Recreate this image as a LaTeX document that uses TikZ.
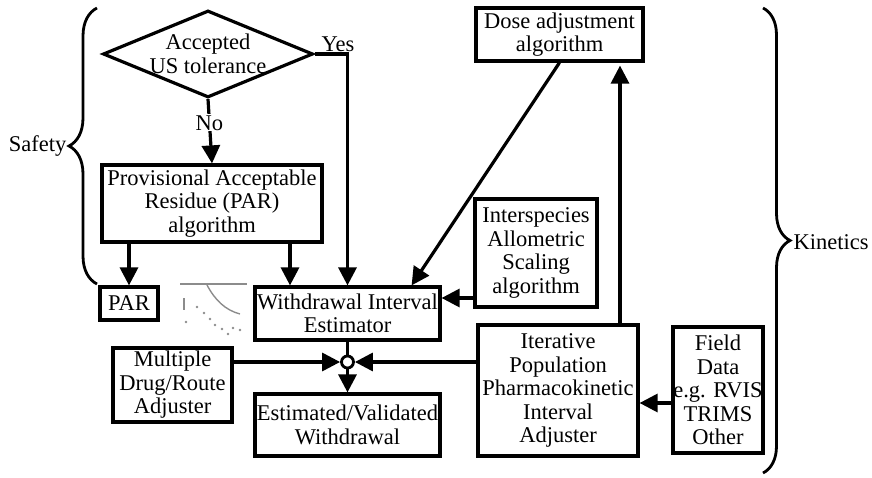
\documentclass[tikz,border=0pt]{standalone}
\usepackage{fontspec}
\setmainfont{Liberation Serif}
\usetikzlibrary{arrows.meta,shapes.geometric,decorations.pathreplacing,calc}
\begin{document}
\begin{tikzpicture}[x=1pt,y=-1pt,
  every node/.style={font=\fontsize{22.5pt}{23.5pt}\selectfont, align=center},
  box/.style={draw, line width=3.2pt, inner sep=0pt},
  arr/.style={line width=3.2pt, -{Triangle[length=18pt,width=18pt]}},
  ln/.style={line width=3.2pt},
  brc/.style={line width=2.8pt, decorate, decoration={brace}}]
\useasboundingbox (0,0) rectangle (872,478);

% diamond
\node[diamond, draw, line width=3.2pt, minimum width=210pt, minimum height=87pt, inner sep=0pt] (dia) at (208,54) {};
\node (diat) at (dia.center) {Accepted\\US tolerance};

% boxes
\node[box, minimum width=220pt, minimum height=77pt] (paralg) at (212,203.5) {Provisional Acceptable\\Residue (PAR)\\algorithm};
\node[box, minimum width=58pt, minimum height=33pt] (parbox) at (129,303.5) {PAR};
\node[box, minimum width=185pt, minimum height=53pt] (wie) at (347.5,313.5) {Withdrawal Interval\\Estimator};
\node[box, minimum width=119pt, minimum height=74pt] (mdra) at (172.5,385) {Multiple\\Drug/Route\\Adjuster};
\node[box, minimum width=185pt, minimum height=62pt] (evw) at (347.5,425) {Estimated/Validated\\Withdrawal};
\node[box, minimum width=160pt, minimum height=131pt] (ippia) at (558,390.5) {Iterative\\Population\\Pharmacokinetic\\Interval\\Adjuster};
\node[box, minimum width=90pt, minimum height=126pt] (field) at (718,390) {Field\\Data\\e.g. RVIS\\TRIMS\\Other};
\node[box, minimum width=122pt, minimum height=108pt] (inter) at (536,253) {Interspecies\\Allometric\\Scaling\\algorithm};
\node[box, minimum width=167pt, minimum height=53pt] (dose) at (559.5,34.5) {Dose adjustment\\algorithm};

% junction
\node[circle, draw, fill=white, line width=2.8pt, minimum size=12pt, inner sep=0pt] (jn) at (347.5,362) {};

% helper coordinates
\coordinate (x290) at (290,0);
\coordinate (x620) at (620,0);
\coordinate (y298) at (0,298);
\coordinate (y403) at (0,403);

% connectors
\draw[arr] (dia.south) -- node[pos=0.37, fill=white, inner sep=1pt] (no) {No} (paralg.north);
\draw[arr] (dia.east) -| (wie.north);
\node (yes) at (338,44) {Yes};
\draw[arr] (paralg.south -| parbox.north) -- (parbox.north);
\draw[arr] (paralg.south -| x290) -- (wie.north -| x290);
\draw[arr] (dose.south) -- ($(wie.north east)+(-30,0)$);
\draw[arr] (inter.west |- y298) -- (wie.east |- y298);
\draw[arr, shorten >=3pt] (ippia.north -| x620) -- (dose.south -| x620);
\draw[arr] (field.west |- y403) -- (ippia.east |- y403);
\draw[ln] (wie.south) -- (jn.north);
\draw[arr] (mdra.east |- jn) -- (jn.west);
\draw[arr] (ippia.west |- jn) -- (jn.east);
\draw[arr] (jn.south) -- (evw.north);

% braces
\draw[brc, decoration={brace, amplitude=28pt}] (97,284) -- (97,8);
\node[anchor=east] (safety) at (70,146) {Safety};
\draw[brc, decoration={brace, amplitude=27pt}] (763,8) -- (763,473);
\node[anchor=west] (kin) at (790,242) {Kinetics};

% small graph sketch
\begin{scope}[black!45, line width=1.4pt]
  \draw (180,284) -- (247,284);
  \draw (207,285) .. controls (215,300) and (225,310) .. (240,314);
  \draw (184,298) -- (184,310);
  \foreach \p in {(186,322),(204,313),(210,319),(215,325),(222,329),(228,334),(233,328),(240,330),(197,307)}
    \fill \p circle (1.4pt);
\end{scope}
\end{tikzpicture}
\end{document}
